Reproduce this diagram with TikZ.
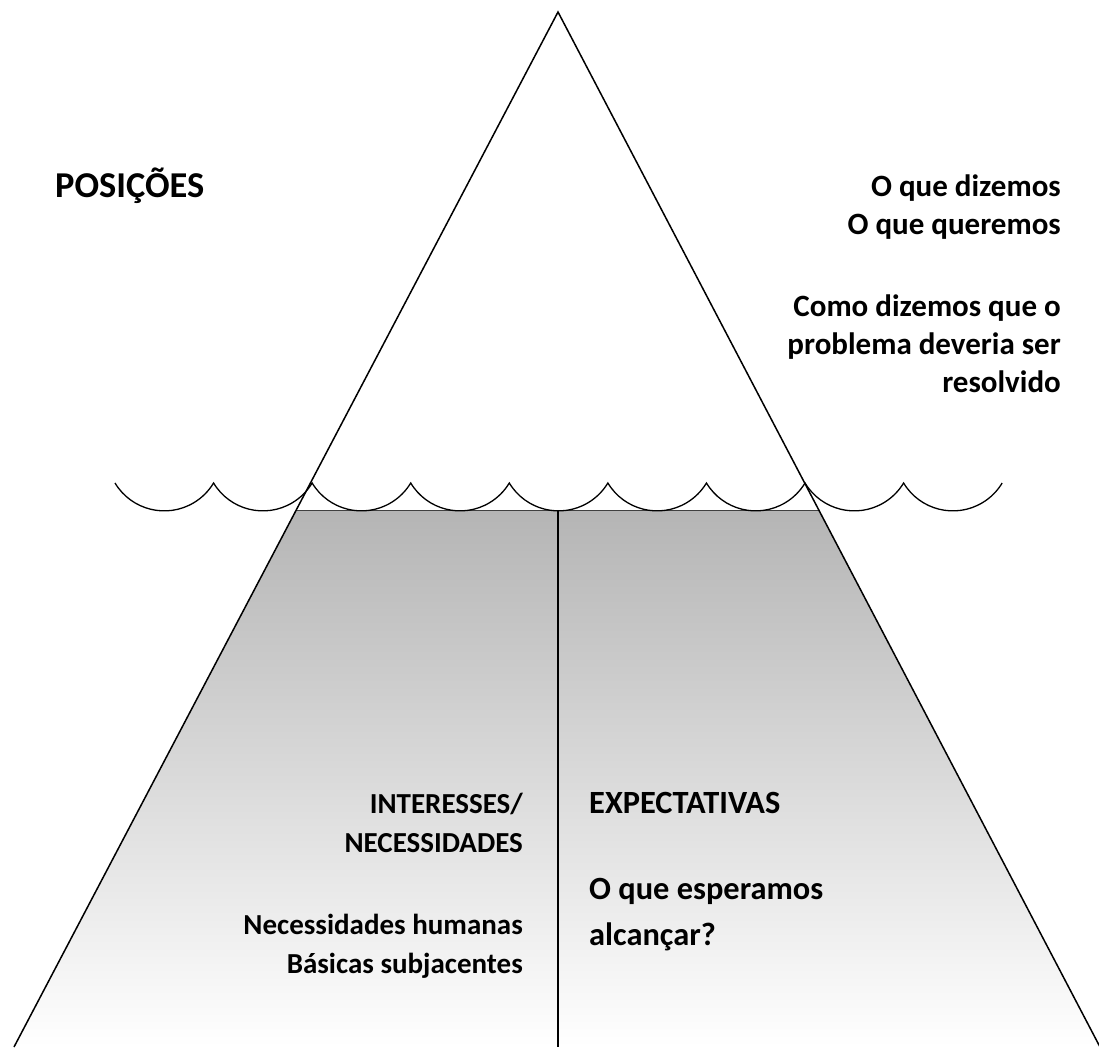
\documentclass[tikz,border=0pt]{standalone}
\usepackage{fontspec}
\setmainfont{Carlito}
\usetikzlibrary{calc}
\tikzset{
  edge/.style={line width=1.5pt, black},
  wave/.style={line width=1.3pt, black},
  lbl/.style={font=\bfseries\fontsize{31}{38}\selectfont, inner sep=0pt, text=black},
  lblL/.style={font=\bfseries\fontsize{29}{36}\selectfont, inner sep=0pt, text=black},
  lblR/.style={font=\bfseries\fontsize{32.4}{39}\selectfont, inner sep=0pt, text=black},
  lblBig/.style={font=\bfseries\fontsize{36.4}{44}\selectfont, inner sep=0pt, text=black},
}
\begin{document}
\begin{tikzpicture}[x=1pt,y=1pt]
\useasboundingbox (0,0) rectangle (1099,1047);
% key points
\coordinate (A) at (558,1035);
\coordinate (BL) at (14,0);
\coordinate (BR) at (1100,0);
\coordinate (WL) at ($(BL)!0.5179!(A)$);
\coordinate (WR) at ($(BR)!0.5179!(A)$);
\coordinate (MT) at (558,536);
\coordinate (MB) at (558,0);
% submerged part
\shade[top color=black!29, bottom color=white] (WL) -- (WR) -- (BR) -- (BL) -- cycle;
\draw[line width=1pt, black!75] (WL) -- (WR);
\draw[edge] (MT) -- (MB);
% iceberg outline
\draw[edge, line join=miter] (BL) -- (A) -- (BR);
% waves
\draw[wave] (115,564)
  arc[start angle=211,end angle=329,radius=57.5]
  arc[start angle=211,end angle=329,radius=57.5]
  arc[start angle=211,end angle=329,radius=57.5]
  arc[start angle=211,end angle=329,radius=57.5]
  arc[start angle=211,end angle=329,radius=57.5]
  arc[start angle=211,end angle=329,radius=57.5]
  arc[start angle=211,end angle=329,radius=57.5]
  arc[start angle=211,end angle=329,radius=57.5]
  arc[start angle=211,end angle=329,radius=57.5];
% texts
\node[lblBig, anchor=base west] (pos) at (55,849) {POSIÇÕES};
\node[lbl, anchor=base east] (t1) at (1061,850) {O que dizemos};
\node[lbl, anchor=base east] (t2) at (1061,812) {O que queremos};
\node[lbl, anchor=base east] (t3) at (1061,730) {Como dizemos que o};
\node[lbl, anchor=base east] (t4) at (1061,692) {problema deveria ser};
\node[lbl, anchor=base east] (t5) at (1061,654) {resolvido};
\node[lblL, anchor=base east] (i1) at (523,234) {INTERESSES/};
\node[lblL, anchor=base east] (i2) at (523,195) {NECESSIDADES};
\node[lblL, anchor=base east] (i3) at (523,113) {Necessidades humanas};
\node[lblL, anchor=base east] (i4) at (523,74) {Básicas subjacentes};
\node[lblR, anchor=base west] (e1) at (589,234) {EXPECTATIVAS};
\node[lblR, anchor=base west] (e2) at (589,148) {O que esperamos};
\node[lblR, anchor=base west] (e3) at (589,102) {alcançar?};
\end{tikzpicture}
\end{document}
